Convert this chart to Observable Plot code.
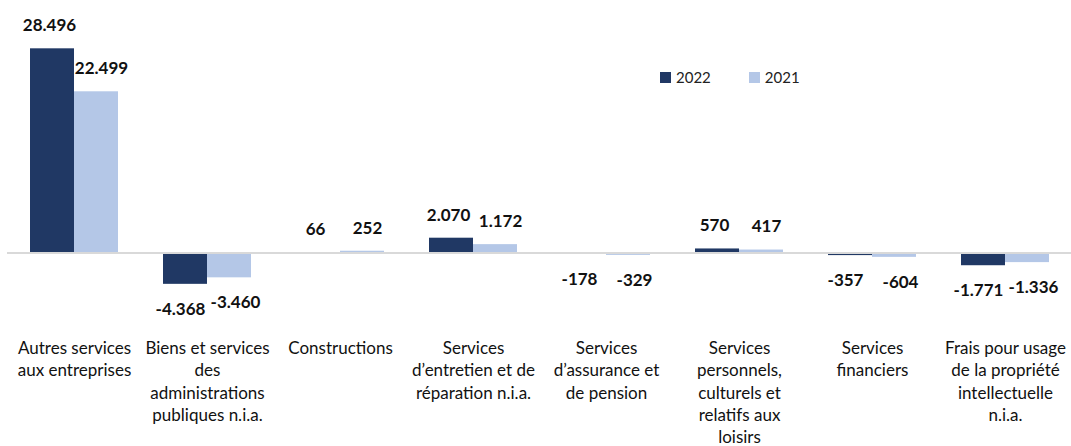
<!DOCTYPE html>
<html>
<head>
<meta charset="utf-8">
<script src="https://cdn.jsdelivr.net/npm/d3@7"></script>
<script src="https://cdn.jsdelivr.net/npm/@observablehq/plot@0.6"></script>
<style>
  html, body { margin: 0; padding: 0; background: #fff; }
  #wrap { position: relative; width: 1071px; height: 446px; font-family: Lato, "Open Sans", sans-serif; }
  #legend { position: absolute; left: 660px; top: 68px; display: flex; gap: 38px; font-size: 15px; color: #222; }
  #legend span.item { display: flex; align-items: center; gap: 5px; }
  #legend span.sw { display: inline-block; width: 11px; height: 11px; }
</style>
</head>
<body>
<div id="wrap"></div>
<script>
const categories = [
  "Autres services aux entreprises",
  "Biens et services des administrations publiques n.i.a.",
  "Constructions",
  "Services d’entretien et de réparation n.i.a.",
  "Services d’assurance et de pension",
  "Services personnels, culturels et relatifs aux loisirs",
  "Services financiers",
  "Frais pour usage de la propriété intellectuelle n.i.a."
];
const categoryLabels = [
  "Autres services\naux entreprises",
  "Biens et services\ndes\nadministrations\npubliques n.i.a.",
  "Constructions",
  "Services\nd’entretien et de\nréparation n.i.a.",
  "Services\nd’assurance et\nde pension",
  "Services\npersonnels,\nculturels et\nrelatifs aux\nloisirs",
  "Services\nfinanciers",
  "Frais pour usage\nde la propriété\nintellectuelle\nn.i.a."
];
const years = ["2022", "2021"];
const values2022 = [28496, -4368, 66, 2070, -178, 570, -357, -1771];
const values2021 = [22499, -3460, 252, 1172, -329, 417, -604, -1336];
const colors = ["#203864", "#b4c7e7"];

const data = [];
categories.forEach((c, i) => {
  data.push({category: c, year: years[0], value: values2022[i]});
  data.push({category: c, year: years[1], value: values2021[i]});
});
const labelData = categories.map((c, i) => ({category: c, label: categoryLabels[i]}));

const loc = d3.formatLocale({decimal: ",", thousands: ".", grouping: [3], currency: ["", " €"], minus: "-"});
const fmt = loc.format(",d");

const valueText = (filter, year, dy, dx) => Plot.text(data.filter(d => filter(d) && d.year === year), {
  fx: "category", x: "year", y: "value", text: d => fmt(d.value),
  dy, dx, fontSize: 17, fontWeight: "bold", fill: "#111", lineAnchor: "middle"
});
const pos = d => d.value >= 0, neg = d => d.value < 0;

const chart = Plot.plot({
  width: 1071,
  height: 446,
  marginLeft: 7,
  marginRight: 0,
  marginTop: 1.7,
  marginBottom: 121.8,
  style: {fontFamily: "Lato, 'Open Sans', sans-serif", background: "#fff"},
  fx: {domain: categories, paddingInner: 0.34, paddingOuter: 0.17, axis: null},
  x: {domain: years, padding: 0, axis: null},
  y: {domain: [-10000, 35000], axis: null},
  color: {domain: years, range: colors},
  marks: [
    Plot.barY(data, {fx: "category", x: "year", y: "value", fill: "year"}),
    Plot.ruleY([0], {stroke: "#d9d9d9", strokeWidth: 2, insetLeft: -23, insetRight: -23}),
    valueText(pos, "2022", -23, -3),
    valueText(pos, "2021", -23, 5),
    valueText(neg, "2022", 25, -5),
    valueText(neg, "2021", 25, 6),
    Plot.text(labelData, {
      fx: "category", text: "label", frameAnchor: "bottom", lineAnchor: "top",
      dy: 14, fontSize: 17, lineHeight: 1.3, fill: "#111"
    })
  ]
});

const wrap = document.getElementById("wrap");
wrap.appendChild(chart);
const legend = document.createElement("div");
legend.id = "legend";
years.forEach((y, i) => {
  const item = document.createElement("span");
  item.className = "item";
  const sw = document.createElement("span");
  sw.className = "sw";
  sw.style.background = colors[i];
  item.appendChild(sw);
  item.appendChild(document.createTextNode(y));
  legend.appendChild(item);
});
wrap.appendChild(legend);
</script>
</body>
</html>
